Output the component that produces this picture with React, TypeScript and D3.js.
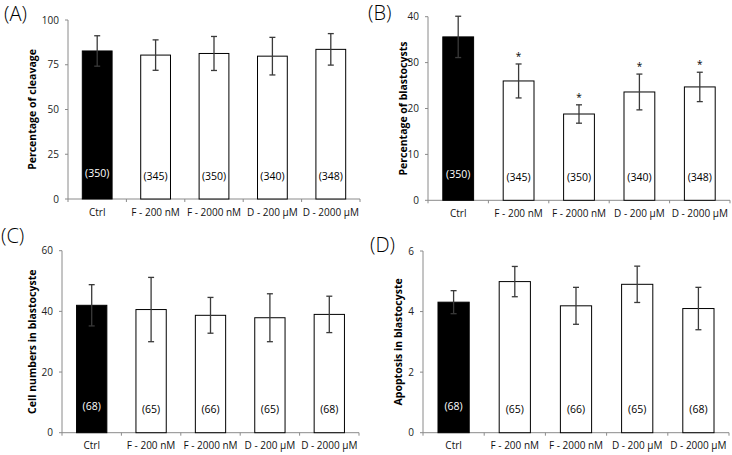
import React, { useEffect, useRef } from "react";
import * as d3 from "d3";

const categories = ["Ctrl", "F - 200 nM", "F - 2000 nM", "D - 200 \u00b5M", "D - 2000 \u00b5M"];

const cleavageMean = [82.7, 80.4, 81.3, 79.8, 83.6];
const cleavageErr = [8.5, 8.5, 9.5, 10.5, 8.8];
const cleavageN = ["(350)", "(345)", "(350)", "(340)", "(348)"];

const blastMean = [35.6, 26.0, 18.8, 23.6, 24.7];
const blastErr = [4.5, 3.7, 2.0, 3.9, 3.2];
const blastN = ["(350)", "(345)", "(350)", "(340)", "(348)"];
const blastSig = [false, true, true, true, true];

const cellMean = [42.0, 40.6, 38.7, 37.9, 39.0];
const cellErr = [6.8, 10.6, 5.9, 7.9, 6.0];
const cellN = ["(68)", "(65)", "(66)", "(65)", "(68)"];

const apoMean = [4.31, 4.99, 4.19, 4.9, 4.1];
const apoErr = [0.38, 0.5, 0.61, 0.6, 0.7];
const apoN = ["(68)", "(65)", "(66)", "(65)", "(68)"];

const ticksA = [0, 25, 50, 75, 100];
const ticksB = [0, 10, 20, 30, 40];
const ticksC = [0, 20, 40, 60];
const ticksD = [0, 2, 4, 6];

type Panel = {
  letter: string;
  lx: number;
  ly: number;
  x0: number;
  x1: number;
  yTop: number;
  yBot: number;
  max: number;
  ticks: number[];
  mean: number[];
  err: number[];
  n: string[];
  sig?: boolean[];
  title: string;
  titleX: number;
};

const panels: Panel[] = [
  { letter: "(A)", lx: 4, ly: 21, x0: 68, x1: 360, yTop: 20, yBot: 199, max: 100, ticks: ticksA, mean: cleavageMean, err: cleavageErr, n: cleavageN, title: "Percentage of cleavage", titleX: 32 },
  { letter: "(B)", lx: 368, ly: 20, x0: 428, x1: 730, yTop: 16.7, yBot: 200.3, max: 40, ticks: ticksB, mean: blastMean, err: blastErr, n: blastN, sig: blastSig, title: "Percentage of blastocysts", titleX: 403 },
  { letter: "(C)", lx: 1, ly: 243, x0: 62, x1: 359, yTop: 250.7, yBot: 432.7, max: 60, ticks: ticksC, mean: cellMean, err: cellErr, n: cellN, title: "Cell numbers in blastocyste", titleX: 32 },
  { letter: "(D)", lx: 370, ly: 252, x0: 423, x1: 729, yTop: 251, yBot: 432.7, max: 6, ticks: ticksD, mean: apoMean, err: apoErr, n: apoN, title: "Apoptosis in blastocyste", titleX: 398 },
];

const FONT = "'Open Sans', 'Noto Sans', sans-serif";

export default function App() {
  const ref = useRef<SVGSVGElement | null>(null);
  useEffect(() => {
    const svg = d3.select(ref.current);
    svg.selectAll("*").remove();
    svg.append("rect").attr("width", 732).attr("height", 455).attr("fill", "#fff");
    panels.forEach((p) => {
      const g = svg.append("g");
      const x = d3.scaleBand<string>().domain(categories).range([p.x0, p.x1]).padding(0);
      const y = d3.scaleLinear().domain([0, p.max]).range([p.yBot, p.yTop]);
      const bw = x.bandwidth() * 0.51;
      const axisColor = "#8a8a8a";

      // y axis
      g.append("line").attr("x1", p.x0).attr("x2", p.x0).attr("y1", p.yTop).attr("y2", p.yBot)
        .attr("stroke", axisColor).attr("stroke-width", 1);
      p.ticks.forEach((t) => {
        g.append("line").attr("x1", p.x0 - 3).attr("x2", p.x0).attr("y1", y(t)).attr("y2", y(t))
          .attr("stroke", axisColor);
        g.append("text").attr("x", p.x0 - 9).attr("y", y(t)).attr("dy", "0.35em")
          .attr("text-anchor", "end").attr("font-family", FONT).attr("font-size", 10)
          .attr("fill", "#222").text(String(t));
      });
      // x axis
      g.append("line").attr("x1", p.x0).attr("x2", p.x1).attr("y1", p.yBot).attr("y2", p.yBot)
        .attr("stroke", axisColor);
      const seps = categories.map((c) => x(c) as number).concat([p.x1]);
      seps.forEach((sx) => {
        g.append("line").attr("x1", sx).attr("x2", sx).attr("y1", p.yBot).attr("y2", p.yBot + 3)
          .attr("stroke", axisColor);
      });

      categories.forEach((c, i) => {
        const cx = (x(c) as number) + x.bandwidth() / 2;
        const isCtrl = i === 0;
        g.append("rect").attr("x", cx - bw / 2).attr("y", y(p.mean[i]))
          .attr("width", bw).attr("height", p.yBot - y(p.mean[i]))
          .attr("fill", isCtrl ? "#000" : "#fff").attr("stroke", "#000").attr("stroke-width", 1);
        const eTop = y(p.mean[i] + p.err[i]);
        const eBot = y(p.mean[i] - p.err[i]);
        const ec = "#3a3a3a";
        g.append("line").attr("x1", cx).attr("x2", cx).attr("y1", eTop).attr("y2", eBot)
          .attr("stroke", ec).attr("stroke-width", 1.3);
        g.append("line").attr("x1", cx - 3).attr("x2", cx + 3).attr("y1", eTop).attr("y2", eTop)
          .attr("stroke", ec).attr("stroke-width", 1.3);
        g.append("line").attr("x1", cx - 3).attr("x2", cx + 3).attr("y1", eBot).attr("y2", eBot)
          .attr("stroke", ec).attr("stroke-width", 1.3);
        if (p.sig && p.sig[i]) {
          g.append("text").attr("x", cx).attr("y", eTop - 4).attr("text-anchor", "middle")
            .attr("font-family", FONT).attr("font-size", 10).attr("fill", "#000").text("*");
        }
        g.append("text").attr("x", cx).attr("y", p.yBot - (isCtrl ? 26 : 23)).attr("dy", "0.35em")
          .attr("text-anchor", "middle").attr("font-family", FONT).attr("font-size", 10.5)
          .attr("fill", isCtrl ? "#fff" : "#000").text(p.n[i]);
        g.append("text").attr("x", cx).attr("y", p.yBot + 13).attr("dy", "0.35em")
          .attr("text-anchor", "middle").attr("font-family", FONT).attr("font-size", 10)
          .attr("fill", "#111").text(c);
      });

      g.append("text").attr("transform", `translate(${p.titleX},${(p.yTop + p.yBot) / 2}) rotate(-90)`)
        .attr("text-anchor", "middle").attr("dy", "0.35em").attr("font-family", FONT)
        .attr("font-size", 10.5).attr("font-weight", "bold").attr("fill", "#000").text(p.title);

      g.append("text").attr("x", p.lx).attr("y", p.ly).attr("font-family", FONT)
        .attr("font-size", 20).attr("font-weight", 300).attr("fill", "#000").text(p.letter);
    });
  }, []);
  return (
    <svg ref={ref} width={732} height={455}
      style={{ position: "absolute", left: 0, top: 0, display: "block" }} />
  );
}
